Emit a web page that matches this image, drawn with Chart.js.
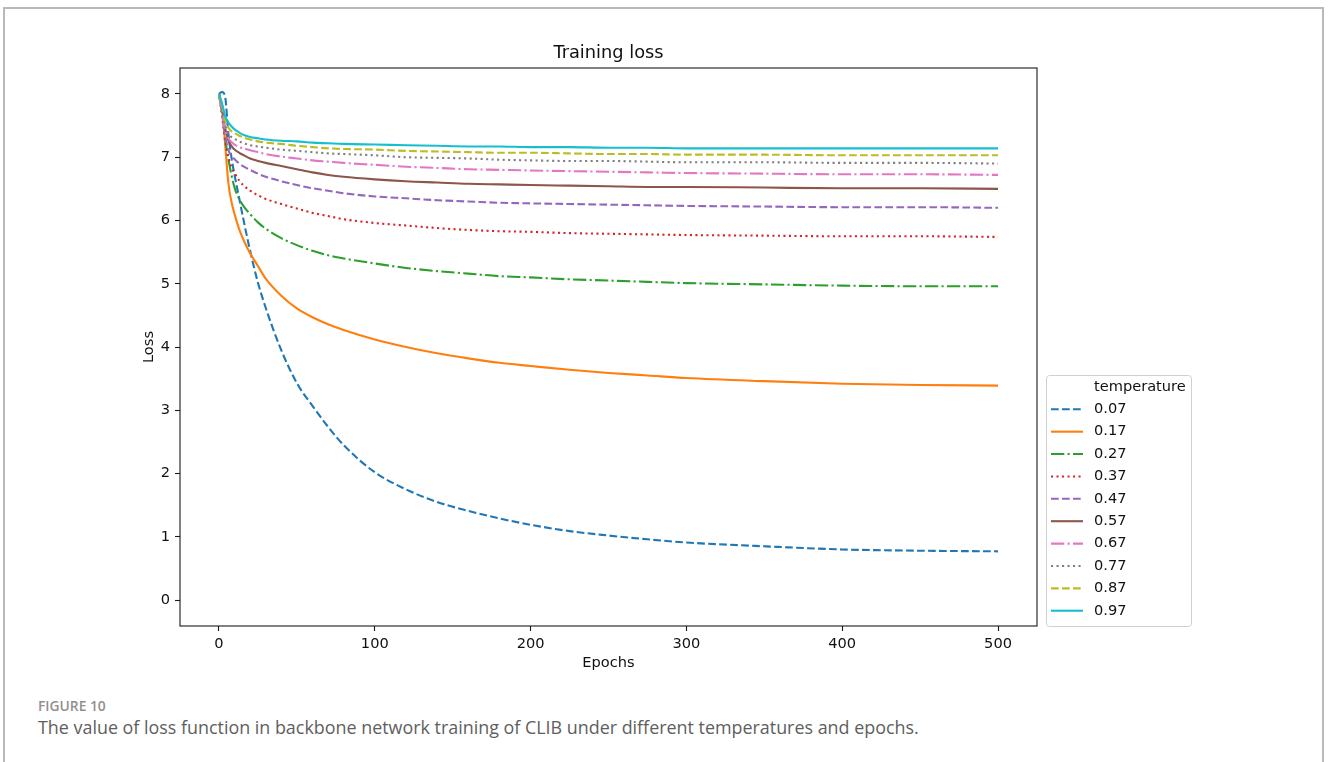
<!DOCTYPE html>
<html>
<head>
<meta charset="utf-8">
<script src="https://cdn.jsdelivr.net/npm/chart.js@4.4.1/dist/chart.umd.min.js"></script>
<style>
  html, body { margin: 0; padding: 0; background: #fff; overflow: hidden; }
  body { width: 1328px; height: 762px; position: relative; }
  #frame {
    position: absolute; left: 3px; top: 7px; width: 1321px; height: 800px;
    border: 2px solid #b9b9b9; box-sizing: border-box;
  }
  #chart { position: absolute; left: 0; top: 0; }
  .fig-label {
    position: absolute; left: 38px; top: 696px;
    font-family: "Open Sans", sans-serif; font-weight: 600; font-size: 13.8px;
    color: #8f8f8f;
  }
  .fig-caption {
    position: absolute; left: 38px; top: 715px;
    font-family: "Open Sans", sans-serif; font-weight: 400; font-size: 17.9px;
    color: #5e5e5e;
  }
</style>
</head>
<body>
<div id="frame"></div>
<canvas id="chart" width="1328" height="690"></canvas>
<div class="fig-label">FIGURE 10</div>
<div class="fig-caption">The value of loss function in backbone network training of CLIB under different temperatures and epochs.</div>

<script>
const epochs = [0, 2, 4, 6, 8, 10, 13, 16, 20, 25, 30, 40, 50, 60, 70, 80, 100, 120, 140, 160, 180, 200, 225, 250, 275, 300, 350, 400, 450, 500];

const temperatures = ["0.07", "0.17", "0.27", "0.37", "0.47", "0.57", "0.67", "0.77", "0.87", "0.97"];

const loss007 = [8.00, 8.03, 7.95, 7.38, 7.00, 6.72, 6.35, 5.98, 5.52, 5.02, 4.62, 3.95, 3.43, 3.07, 2.74, 2.45, 2.02, 1.75, 1.55, 1.41, 1.29, 1.19, 1.09, 1.02, 0.96, 0.91, 0.85, 0.80, 0.78, 0.77];
const loss017 = [8.00, 7.80, 7.20, 6.60, 6.30, 6.10, 5.86, 5.68, 5.48, 5.28, 5.08, 4.81, 4.61, 4.47, 4.36, 4.27, 4.12, 4.00, 3.90, 3.82, 3.75, 3.70, 3.64, 3.59, 3.55, 3.51, 3.46, 3.42, 3.40, 3.39];
const loss027 = [8.00, 7.70, 7.30, 6.98, 6.72, 6.52, 6.34, 6.22, 6.10, 5.97, 5.87, 5.72, 5.61, 5.52, 5.45, 5.40, 5.32, 5.25, 5.20, 5.16, 5.12, 5.10, 5.07, 5.05, 5.03, 5.01, 4.99, 4.97, 4.96, 4.96];
const loss037 = [8.00, 7.65, 7.25, 7.00, 6.84, 6.75, 6.63, 6.55, 6.47, 6.40, 6.34, 6.26, 6.19, 6.12, 6.07, 6.02, 5.96, 5.92, 5.88, 5.85, 5.83, 5.82, 5.80, 5.79, 5.78, 5.77, 5.76, 5.75, 5.75, 5.74];
const loss047 = [8.00, 7.70, 7.35, 7.12, 7.02, 6.97, 6.90, 6.85, 6.80, 6.74, 6.69, 6.62, 6.56, 6.51, 6.47, 6.43, 6.38, 6.35, 6.32, 6.30, 6.28, 6.27, 6.26, 6.25, 6.24, 6.23, 6.22, 6.21, 6.21, 6.20];
const loss057 = [8.00, 7.75, 7.45, 7.27, 7.18, 7.12, 7.07, 7.03, 6.98, 6.94, 6.91, 6.86, 6.81, 6.76, 6.72, 6.69, 6.65, 6.62, 6.60, 6.58, 6.57, 6.56, 6.55, 6.54, 6.53, 6.53, 6.52, 6.51, 6.51, 6.50];
const loss067 = [8.00, 7.70, 7.42, 7.30, 7.24, 7.20, 7.16, 7.14, 7.11, 7.08, 7.05, 7.01, 6.98, 6.95, 6.93, 6.91, 6.88, 6.85, 6.83, 6.81, 6.80, 6.79, 6.78, 6.77, 6.76, 6.75, 6.74, 6.73, 6.73, 6.72];
const loss077 = [8.00, 7.75, 7.50, 7.38, 7.32, 7.29, 7.25, 7.22, 7.19, 7.17, 7.15, 7.12, 7.10, 7.08, 7.06, 7.05, 7.03, 7.00, 6.99, 6.98, 6.96, 6.95, 6.94, 6.94, 6.93, 6.92, 6.92, 6.91, 6.91, 6.90];
const loss087 = [8.00, 7.80, 7.58, 7.47, 7.41, 7.38, 7.34, 7.31, 7.28, 7.25, 7.23, 7.21, 7.18, 7.16, 7.14, 7.13, 7.12, 7.10, 7.09, 7.08, 7.07, 7.07, 7.06, 7.05, 7.05, 7.04, 7.04, 7.03, 7.03, 7.03];
const loss097 = [8.00, 7.85, 7.65, 7.55, 7.49, 7.44, 7.39, 7.35, 7.32, 7.30, 7.28, 7.26, 7.25, 7.23, 7.22, 7.21, 7.20, 7.19, 7.18, 7.17, 7.17, 7.16, 7.16, 7.15, 7.15, 7.14, 7.14, 7.14, 7.14, 7.14];

const xTicks = [0, 100, 200, 300, 400, 500];
const yTicks = [0, 1, 2, 3, 4, 5, 6, 7, 8];

const allLoss = [loss007, loss017, loss027, loss037, loss047, loss057, loss067, loss077, loss087, loss097];

// matplotlib tab10 + the "--", "-", "-.", ":" cycle
const lineColors = ["#1f77b4", "#ff7f0e", "#2ca02c", "#d62728", "#9467bd", "#8c564b", "#e377c2", "#7f7f7f", "#bcbd22", "#17becf"];
const DASH = [7.7, 3.3];
const SOLID = [];
const DASHDOT = [13.3, 3.3, 2.1, 3.3];
const DOT = [2.1, 3.4];
const lineDashes = [DASH, SOLID, DASHDOT, DOT, DASH, SOLID, DASHDOT, DOT, DASH, SOLID];

const FONT = "DejaVu Sans";
Chart.defaults.font.family = FONT;
Chart.defaults.color = "#111";

const datasets = allLoss.map((vals, i) => ({
  label: temperatures[i],
  data: epochs.map((e, j) => ({ x: e, y: vals[j] })),
  borderColor: lineColors[i],
  borderDash: lineDashes[i],
  borderWidth: 2.1,
  pointRadius: 0,
  fill: false,
  cubicInterpolationMode: "monotone",
  order: allLoss.length - i
}));

/* ---- frame, title and legend drawn on top ---- */
const decorPlugin = {
  id: "decor",
  afterDraw(chart) {
    const ctx = chart.ctx;
    const a = chart.chartArea;

    ctx.save();
    // axes box
    ctx.strokeStyle = "#1a1a1a";
    ctx.lineWidth = 1.1;
    ctx.strokeRect(a.left, a.top, a.right - a.left, a.bottom - a.top);

    // title
    ctx.fillStyle = "#111";
    ctx.font = "17.8px '" + FONT + "'";
    ctx.textAlign = "center";
    ctx.textBaseline = "middle";
    ctx.fillText("Training loss", (a.left + a.right) / 2, 53);

    // legend
    const lx = 1046, ly = 375, lw = 145, lh = 251;
    ctx.beginPath();
    ctx.roundRect(lx + 0.5, ly + 0.5, lw, lh, 3);
    ctx.fillStyle = "rgba(255,255,255,0.8)";
    ctx.fill();
    ctx.strokeStyle = "#d0d0d0";
    ctx.lineWidth = 1;
    ctx.stroke();

    ctx.font = "14.6px '" + FONT + "'";
    ctx.textAlign = "left";
    ctx.fillStyle = "#111";
    ctx.fillText("temperature", 1094, 387);

    chart.data.datasets.forEach((ds, i) => {
      const y = 409.3 + i * 22.38;
      ctx.beginPath();
      ctx.setLineDash(ds.borderDash);
      ctx.strokeStyle = ds.borderColor;
      ctx.lineWidth = ds.borderWidth;
      ctx.moveTo(1051, y);
      ctx.lineTo(1083, y);
      ctx.stroke();
      ctx.setLineDash([]);
      ctx.fillStyle = "#111";
      ctx.fillText(ds.label, 1094, y);
    });
    ctx.restore();
  }
};

new Chart(document.getElementById("chart"), {
  type: "line",
  data: { datasets: datasets },
  plugins: [decorPlugin],
  options: {
    responsive: false,
    animation: false,
    devicePixelRatio: 1,
    layout: { padding: { left: 140, right: 291, top: 68, bottom: 14 } },
    plugins: {
      legend: { display: false },
      title: { display: false },
      tooltip: { enabled: false }
    },
    scales: {
      x: {
        type: "linear",
        min: -25,
        max: 525,
        afterFit(scale) { scale.height = 50; },
        afterBuildTicks(scale) { scale.ticks = xTicks.map(v => ({ value: v })); },
        grid: { drawOnChartArea: false, drawTicks: true, tickLength: 5, tickColor: "#1a1a1a", tickWidth: 1.1 },
        border: { display: false },
        ticks: { padding: 4, maxRotation: 0, font: { size: 14.6 }, color: "#111" },
        title: { display: true, text: "Epochs", font: { size: 14.6 }, color: "#111", padding: { top: 0, bottom: 4 } }
      },
      y: {
        type: "linear",
        min: -0.41,
        max: 8.41,
        afterFit(scale) { scale.width = 40; },
        afterBuildTicks(scale) { scale.ticks = yTicks.map(v => ({ value: v })); },
        grid: { drawOnChartArea: false, drawTicks: true, tickLength: 5, tickColor: "#1a1a1a", tickWidth: 1.1 },
        border: { display: false },
        ticks: { padding: 5, font: { size: 14.6 }, color: "#111" },
        title: { display: true, text: "Loss", font: { size: 14.6 }, color: "#111", padding: { top: 0, bottom: 0 } }
      }
    }
  }
});
</script>
</body>
</html>
